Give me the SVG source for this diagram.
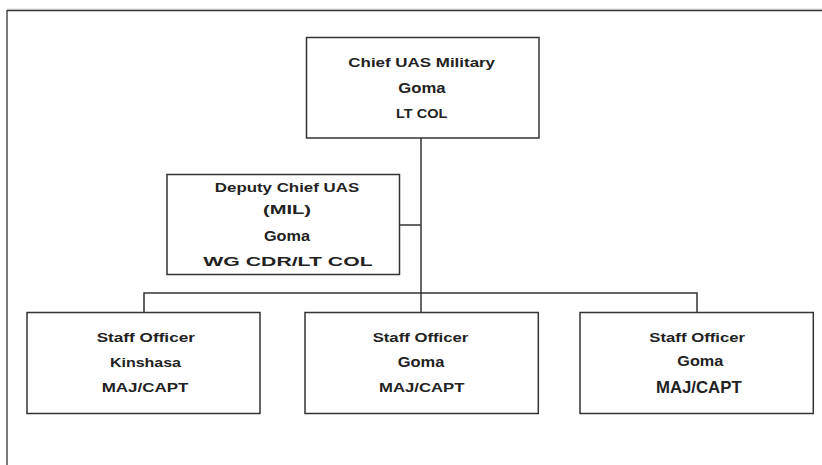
<svg xmlns="http://www.w3.org/2000/svg" width="822" height="465" viewBox="0 0 822 465">
  <style>
    .box { fill: #ffffff; stroke: #333333; stroke-width: 1.5; }
    .link { fill: none; stroke: #333333; stroke-width: 1.5; }
    .frame { fill: none; stroke: #333333; stroke-width: 1.3; }
    text { font-family: "Liberation Sans", Arial, sans-serif; font-weight: bold; fill: #222222; text-anchor: middle; }
    .t13 { font-size: 13px; }
    .t14 { font-size: 14px; }
    .t16 { font-size: 16.5px; }
  </style>
  <rect width="822" height="465" fill="#ffffff"/>

  <!-- page frame -->
  <g id="frame">
    <line x1="7" y1="9.3" x2="822" y2="9.3" stroke="#aaaaaa" stroke-width="1"/>
    <polyline class="frame" points="7,465 7,10.6 822,10.6"/>
  </g>

  <!-- connectors -->
  <g id="connectors">
    <line class="link" x1="421" y1="138" x2="421" y2="293"/>
    <line class="link" x1="399" y1="225" x2="421" y2="225"/>
    <polyline class="link" points="144,312 144,293 697,293 697,312"/>
    <line class="link" x1="421" y1="293" x2="421" y2="312"/>
  </g>

  <g id="chief">
    <rect class="box" x="306.5" y="37.5" width="232.5" height="100.5"/>
    <text class="t13" x="421.7" y="66.7" textLength="146.7" lengthAdjust="spacingAndGlyphs">Chief UAS Military</text>
    <text class="t14" x="422" y="93.3" textLength="47.3" lengthAdjust="spacingAndGlyphs">Goma</text>
    <text class="t13" x="421.7" y="117.7" textLength="51.3" lengthAdjust="spacingAndGlyphs">LT COL</text>
  </g>

  <g id="deputy">
    <rect class="box" x="167" y="174.5" width="232.5" height="100"/>
    <text class="t13" x="287" y="192" textLength="144.3" lengthAdjust="spacingAndGlyphs">Deputy Chief UAS</text>
    <text class="t13" x="287" y="214" textLength="48" lengthAdjust="spacingAndGlyphs">(MIL)</text>
    <text class="t14" x="287" y="241" textLength="46" lengthAdjust="spacingAndGlyphs">Goma</text>
    <text class="t13" x="288" y="266" textLength="169.3" lengthAdjust="spacingAndGlyphs">WG CDR/LT COL</text>
  </g>

  <g id="staff-kinshasa">
    <rect class="box" x="27" y="312.5" width="233" height="101"/>
    <text class="t13" x="145.8" y="341.7" textLength="98.3" lengthAdjust="spacingAndGlyphs">Staff Officer</text>
    <text class="t13" x="145.5" y="367.3" textLength="71" lengthAdjust="spacingAndGlyphs">Kinshasa</text>
    <text class="t13" x="145" y="391.7" textLength="86.7" lengthAdjust="spacingAndGlyphs">MAJ/CAPT</text>
  </g>

  <g id="staff-goma-1">
    <rect class="box" x="305" y="312.5" width="233.3" height="101"/>
    <text class="t13" x="420.5" y="341.7" textLength="95.7" lengthAdjust="spacingAndGlyphs">Staff Officer</text>
    <text class="t14" x="421" y="367" textLength="46.7" lengthAdjust="spacingAndGlyphs">Goma</text>
    <text class="t13" x="421.7" y="391.7" textLength="85.3" lengthAdjust="spacingAndGlyphs">MAJ/CAPT</text>
  </g>

  <g id="staff-goma-2">
    <rect class="box" x="580" y="312.5" width="233.3" height="101"/>
    <text class="t13" x="697.2" y="341.7" textLength="95.7" lengthAdjust="spacingAndGlyphs">Staff Officer</text>
    <text class="t14" x="700.3" y="366" textLength="46" lengthAdjust="spacingAndGlyphs">Goma</text>
    <text class="t16" x="698.8" y="393.3" textLength="85.7" lengthAdjust="spacingAndGlyphs">MAJ/CAPT</text>
  </g>
</svg>
